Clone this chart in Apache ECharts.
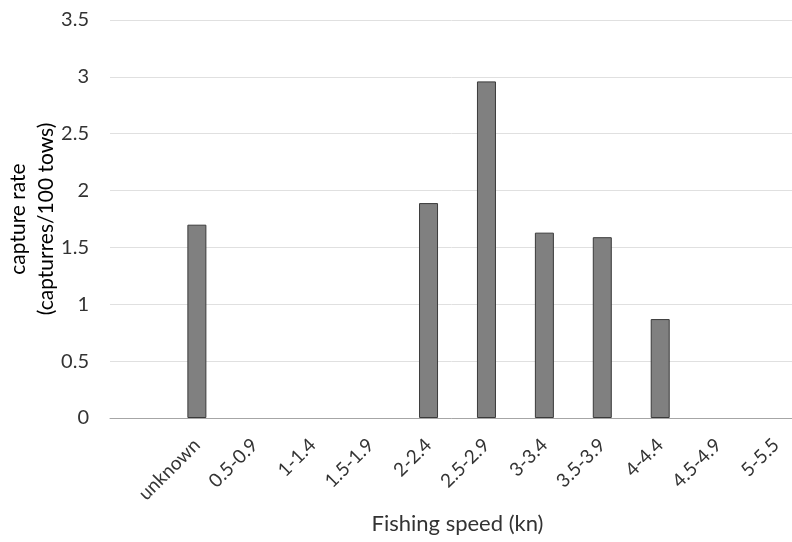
<!DOCTYPE html>
<html><head><meta charset="utf-8">
<script src="https://cdn.jsdelivr.net/npm/echarts@6/dist/echarts.min.js"></script>
<style>html,body{margin:0;padding:0;background:#fff}#c{width:792px;height:542px}</style>
</head><body><div id="c"></div>
<script>
const categories = ['', 'unknown', '0.5-0.9', '1-1.4', '1.5-1.9', '2-2.4', '2.5-2.9', '3-3.4', '3.5-3.9', '4-4.4', '4.5-4.9', '5-5.5'];
const captureRate = [null, 1.7, 0, 0, 0, 1.89, 2.96, 1.63, 1.59, 0.87, 0, 0];
const yTicks = [0, 0.5, 1, 1.5, 2, 2.5, 3, 3.5];
const xTitle = 'Fishing speed (kn)';
const yTitle = 'capture rate\n(capturres/100 tows)';
const font = 'Lato, "Open Sans", sans-serif';

const barData = captureRate.map(v => (v === 0 ? {value: v, itemStyle: {borderWidth: 0}} : v));

const chart = echarts.init(document.getElementById('c'), null, {renderer: 'canvas'});
chart.setOption({
  animation: false,
  grid: {left: 110, top: 20, width: 695, height: 398, containLabel: false, outerBoundsMode: 'none'},
  xAxis: {
    type: 'category', data: categories,
    axisLine: {lineStyle: {color: '#a6a6a6', width: 1}},
    axisTick: {show: false},
    axisLabel: {rotate: 45, interval: 0, color: '#333', fontFamily: font, fontSize: 19, margin: 24},
    name: xTitle, nameLocation: 'middle', nameGap: 95, nameMoveOverlap: false,
    nameTextStyle: {color: '#333', fontFamily: font, fontSize: 22}
  },
  yAxis: {
    type: 'value', min: yTicks[0], max: yTicks[yTicks.length - 1], interval: 0.5,
    axisLine: {show: false}, axisTick: {show: false},
    axisLabel: {color: '#333', fontFamily: font, fontSize: 20, margin: 21},
    splitLine: {lineStyle: {color: '#e0e0e0', width: 1}},
    name: yTitle, nameLocation: 'middle', nameGap: 50, nameRotate: 90, nameMoveOverlap: false,
    nameTextStyle: {color: '#000', fontFamily: font, fontSize: 21, lineHeight: 28, align: 'center'}
  },
  series: [{
    type: 'bar', data: barData, barWidth: 19,
    itemStyle: {color: '#808080', borderColor: '#3a3a3a', borderWidth: 1}
  }]
});
</script></body></html>
